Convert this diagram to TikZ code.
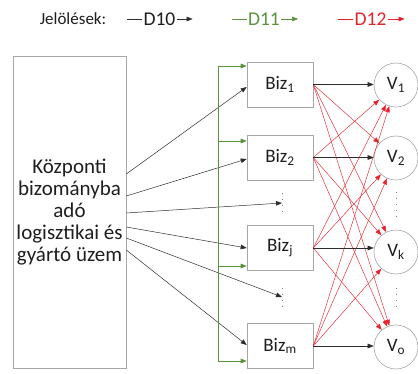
\documentclass[tikz,border=0pt]{standalone}
\usepackage{fontspec}
\setmainfont{Carlito}
\usetikzlibrary{arrows.meta}
\definecolor{boxgray}{RGB}{166,166,166}
\definecolor{lnk}{RGB}{45,45,45}
\definecolor{grn}{RGB}{90,145,60}
\definecolor{rd}{RGB}{230,35,45}
\definecolor{txt}{RGB}{30,30,30}

\begin{document}
\begin{tikzpicture}[x=1pt,y=-1pt,
  tip/.style={-{Triangle[length=6pt,width=4.6pt]}},
  plant/.style={draw=boxgray, line width=0.6pt, minimum width=113pt, minimum height=312pt,
    inner sep=0pt, align=center, text=txt, font=\fontsize{21}{22}\selectfont},
  bizbox/.style={draw=boxgray, line width=0.6pt, minimum width=66pt, minimum height=45pt,
    inner sep=0pt, text=txt, font=\fontsize{19}{22}\selectfont},
  vnode/.style={circle, draw=boxgray, line width=0.6pt, minimum size=44pt, inner sep=0pt,
    text=txt, font=\fontsize{19}{22}\selectfont},
  keytext/.style={inner sep=1pt, font=\fontsize{19.5}{21}\selectfont},
  d10/.style={draw=lnk, line width=0.5pt, tip},
  d11/.style={draw=grn, line width=0.6pt, tip},
  d12/.style={draw=rd, line width=0.45pt, tip},
  vdots/.style={draw=gray, line width=0.9pt, dash pattern=on 0.9pt off 5pt}
]
\useasboundingbox (0,0) rectangle (418,374);

% legend
\node[text=txt, font=\fontsize{17}{19}\selectfont] (leg) at (73,19) {Jelölések:};
\node[keytext, text=txt] (k10) at (159.5,19) {D10};
\node[keytext, text=grn] (k11) at (264,19) {D11};
\node[keytext, text=rd]  (k12) at (370.5,19) {D12};
\draw[lnk, line width=0.5pt] (k10.west) -- ++(-15,0);
\draw[d10] (k10.east) -- ++(16,0);
\draw[grn, line width=0.6pt] (k11.west) -- ++(-15,0);
\draw[d11] (k11.east) -- ++(17,0);
\draw[rd, line width=0.5pt] (k12.west) -- ++(-15,0);
\draw[d12] (k12.east) -- ++(17,0);

% central plant
\node[plant] (L) at (69.5,212) {Központi\\bizományba\\adó\\logisztikai és\\gyártó üzem};

% consignees
\node[bizbox] (B1) at (280,84.5) {Biz\textsubscript{1}};
\node[bizbox] (B2) at (280,157.5) {Biz\textsubscript{2}};
\node[bizbox] (Bj) at (280,248) {Biz\textsubscript{j}};
\node[bizbox] (Bm) at (280,346) {Biz\textsubscript{m}};

% customers
\node[vnode] (V1) at (396,85) {V\textsubscript{1}};
\node[vnode] (V2) at (396,158) {V\textsubscript{2}};
\node[vnode] (Vk) at (396,252) {V\textsubscript{k}};
\node[vnode] (Vo) at (396,347) {V\textsubscript{o}};

% ellipsis marks
\coordinate (d1) at (282,203);
\coordinate (d2) at (282,297);
\draw[vdots] ([yshift=10pt]d1) -- ([yshift=-13pt]d1);
\draw[vdots] ([yshift=9pt]d2) -- ([yshift=-14pt]d2);
\coordinate (e1) at (396,192);
\coordinate (e2) at (396,288);
\draw[vdots] (e1) -- ++(0,24);
\draw[vdots] (e2) -- ++(0,22);

% D12: cross deliveries
\foreach \b/\v in {B1/V2,B1/Vk,B1/Vo,B2/V1,B2/Vk,B2/Vo,Bj/V1,Bj/V2,Bj/Vo,Bm/V1,Bm/V2,Bm/Vk}
  \draw[d12] (\b.east) -- (\v);

% D10: plant to consignees and consignees to their customers
\draw[d10] ([yshift=38pt]L.east) -- ([yshift=-2.5pt]B1.west);
\draw[d10] ([yshift=16pt]L.east) -- ([yshift=-1.5pt]B2.west);
\draw[d10] ([yshift=-1pt]L.east) -- (d1);
\draw[d10] ([yshift=-15pt]L.east) -- (Bj.west);
\draw[d10] ([yshift=-26pt]L.east) -- (d2);
\draw[d10] ([yshift=-38pt]L.east) -- ([yshift=1pt]Bm.west);
\foreach \b/\v in {B1/V1,B2/V2,Bj/Vk,Bm/Vo}
  \draw[d10] (\b.east) -- (\b.east -| \v.west);

% D11: feed line to the consignees
\coordinate (g1) at (218,66);
\coordinate (g2) at (218,141);
\coordinate (g3) at (218,266);
\coordinate (g4) at (218,361);
\draw[grn, line width=0.6pt] (g1) -- (g4);
\foreach \g/\b in {g1/B1,g2/B2,g3/Bj,g4/Bm}
  \draw[d11] (\g) -- (\g -| \b.west);
\end{tikzpicture}
\end{document}
